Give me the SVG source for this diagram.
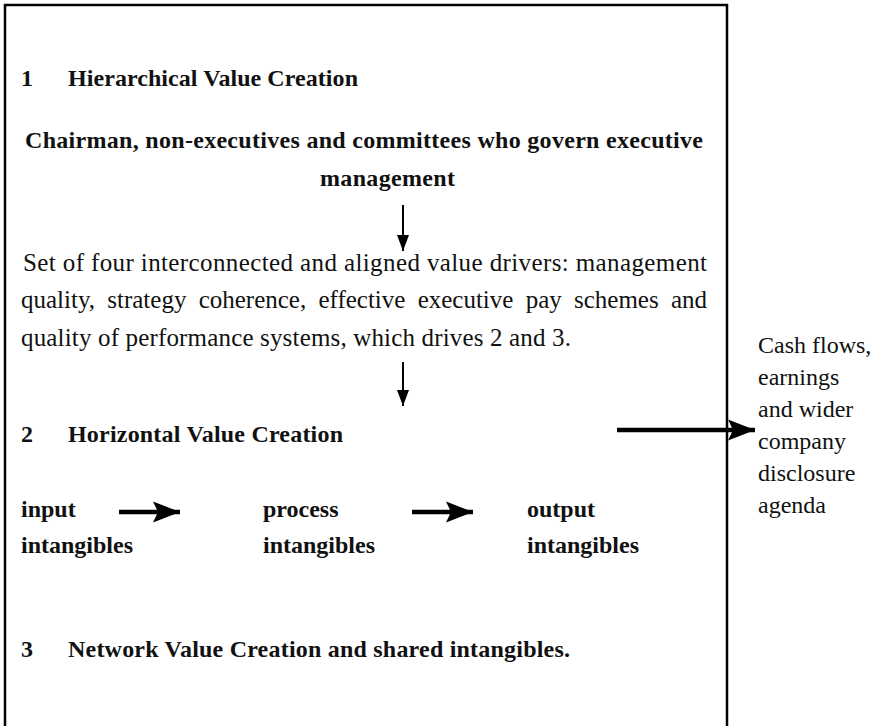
<svg xmlns="http://www.w3.org/2000/svg" width="881" height="726" viewBox="0 0 881 726">
<defs>
<style>
text{font-family:"Liberation Serif","Times New Roman",serif;font-size:24px;fill:#111;}
.b{font-weight:bold;}
.p{font-size:25px;}
.thin{stroke:#000;stroke-width:2;fill:none;}
.thick{stroke:#000;stroke-width:4.5;fill:none;}
</style>
<marker id="hThin" markerUnits="userSpaceOnUse" markerWidth="16" markerHeight="14" refX="16" refY="7" orient="auto">
<path d="M0,1 L16,7 L0,13 z" fill="#000"/>
</marker>
<marker id="hThick" markerUnits="userSpaceOnUse" markerWidth="28" markerHeight="22" refX="27" refY="11" orient="auto">
<path d="M0,0.5 L27,11 L0,21.5 L5,11 z" fill="#000"/>
</marker>
</defs>
<rect x="0" y="0" width="881" height="726" fill="#fff"/>
<g id="frame">
<rect x="5" y="5" width="722" height="740" fill="none" stroke="#000" stroke-width="2.5"/>
</g>
<g id="section1">
<text class="b" x="21" y="86">1</text>
<text class="b" x="68" y="86" textLength="290" lengthAdjust="spacing">Hierarchical Value Creation</text>
</g>
<g id="governance">
<text class="b" x="25" y="148" textLength="678" lengthAdjust="spacing">Chairman, non-executives and committees who govern executive</text>
<text class="b" x="320" y="186" textLength="135" lengthAdjust="spacing">management</text>
</g>
<g id="drivers">
<text class="p" x="23" y="271" textLength="684" lengthAdjust="spacing">Set of four interconnected and aligned value drivers: management</text>
<text class="p" x="21" y="308" textLength="686" lengthAdjust="spacing" word-spacing="6">quality, strategy coherence, effective executive pay schemes and</text>
<text class="p" x="21" y="346" textLength="550" lengthAdjust="spacing">quality of performance systems, which drives 2 and 3.</text>
</g>
<g id="section2">
<text class="b" x="21" y="442">2</text>
<text class="b" x="68" y="442" textLength="275" lengthAdjust="spacing">Horizontal Value Creation</text>
</g>
<g id="input">
<text class="b" x="21" y="517">input</text>
<text class="b" x="21" y="553">intangibles</text>
</g>
<g id="process">
<text class="b" x="263" y="517">process</text>
<text class="b" x="263" y="553">intangibles</text>
</g>
<g id="output">
<text class="b" x="527" y="517">output</text>
<text class="b" x="527" y="553">intangibles</text>
</g>
<g id="section3">
<text class="b" x="21" y="657">3</text>
<text class="b" x="68" y="657" textLength="502" lengthAdjust="spacing">Network Value Creation and shared intangibles.</text>
</g>
<g id="outcome">
<text x="758" y="353">Cash flows,</text>
<text x="758" y="385">earnings</text>
<text x="758" y="417">and wider</text>
<text x="758" y="449">company</text>
<text x="758" y="481">disclosure</text>
<text x="758" y="513">agenda</text>
</g>
<g id="connectors">
<line class="thin" x1="403" y1="205" x2="403" y2="251" marker-end="url(#hThin)"/>
<line class="thin" x1="403" y1="362" x2="403" y2="406" marker-end="url(#hThin)"/>
<line class="thick" x1="119" y1="512" x2="180" y2="512" marker-end="url(#hThick)"/>
<line class="thick" x1="412" y1="512" x2="473" y2="512" marker-end="url(#hThick)"/>
<line class="thick" x1="617" y1="430" x2="755" y2="430" marker-end="url(#hThick)"/>
</g>
</svg>
